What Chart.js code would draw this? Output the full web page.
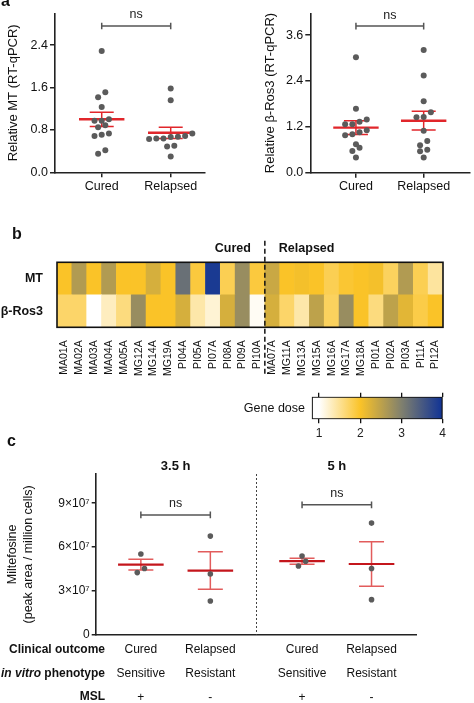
<!DOCTYPE html>
<html><head><meta charset="utf-8">
<script src="https://cdn.jsdelivr.net/npm/chart.js@4.4.1/dist/chart.umd.min.js"></script>
<style>
html,body{margin:0;padding:0;background:#fff;width:474px;height:703px;overflow:hidden;position:relative}
canvas{position:absolute}
</style></head><body>
<canvas id="a1" width="237" height="200" style="left:0;top:0;width:237px;height:200px"></canvas>
<canvas id="a2" width="237" height="200" style="left:237px;top:0;width:237px;height:200px"></canvas>
<canvas id="b" width="474" height="160" style="left:0;top:220px;width:474px;height:160px"></canvas>
<canvas id="c" width="474" height="273" style="left:0;top:430px;width:474px;height:273px"></canvas>
<canvas id="cb" width="474" height="65" style="left:0;top:380px;width:474px;height:65px"></canvas>
<script>
// ---------- DATA ----------
const catsA = ['Cured', 'Relapsed'];
const mtCured = [2.29, 1.51, 1.415, 1.23, 0.975, 1.00, 0.975, 0.85, 0.89, 0.71, 0.685, 0.73, 0.35, 0.415];
const mtRelapsed = [1.58, 1.36, 0.73, 0.67, 0.64, 0.63, 0.64, 0.665, 0.685, 0.50, 0.485, 0.30];
const mtMean = [1.00, 0.745];
const mtSem = [0.135, 0.105];
const mtTicks = [0, 0.8, 1.6, 2.4];
const rosCured = [3.02, 1.67, 1.395, 1.33, 1.265, 1.265, 1.056, 1.11, 0.98, 1.004, 0.742, 0.654, 0.567, 0.40];
const rosRelapsed = [3.21, 2.54, 1.87, 1.58, 1.46, 1.45, 1.10, 0.83, 0.72, 0.60, 0.56, 0.40];
const rosMean = [1.18, 1.36];
const rosSem = [0.18, 0.245];
const rosTicks = [0, 1.2, 2.4, 3.6];

const isolates = ['MA01A','MA02A','MA03A','MA04A','MA05A','MG12A','MG14A','MG19A','PI04A','PI05A','PI07A','PI08A','PI09A','PI10A',
                  'MA07A','MG11A','MG13A','MG15A','MG16A','MG17A','MG18A','PI01A','PI02A','PI03A','PI11A','PI12A'];
const genes = ['MT', 'β-Ros3'];
const mtDose  = [2.0,2.6,2.0,2.6,2.0,2.0,2.3,2.0,3.2,1.9,3.9,1.8,2.8,1.9, 2.4,2.0,2.05,2.0,1.8,1.95,2.0,2.05,1.75,2.6,1.8,1.45];
const rosDose = [1.7,1.7,1.0,1.3,1.6,2.8,2.0,2.0,2.3,1.4,1.2,2.3,2.8,1.05, 2.3,1.7,1.4,2.5,1.75,2.8,2.0,1.6,2.5,2.2,1.85,2.0];
const doseTicks = [1, 2, 3, 4];
const doseRange = [0.82, 4];

const timepoints = ['3.5 h', '5 h'];
const outcomes = ['Cured', 'Relapsed', 'Cured', 'Relapsed'];
const phenotypes = ['Sensitive', 'Resistant', 'Sensitive', 'Resistant'];
const msl = ['+', '-', '+', '-'];
const milt35Cured = [5.52e7, 4.25e7, 4.53e7];
const milt35Relapsed = [6.75e7, 4.16e7, 2.31e7];
const milt5Cured = [5.39e7, 4.70e7, 5.03e7];
const milt5Relapsed = [7.64e7, 4.53e7, 2.40e7];
const miltMean = [4.80e7, 4.39e7, 5.03e7, 4.84e7];
const miltSem = [0.37e7, 1.28e7, 0.20e7, 1.52e7];
const miltTicks = [0, 3e7, 6e7, 9e7];

// ---------- LAYOUT (not data) ----------
const cPos = [1, 2, 3.32, 4.32];
const cDivider = 2.66;
const FONT = "'Liberation Sans', Arial, Helvetica, sans-serif";

Chart.defaults.font.family = FONT;
Chart.defaults.color = '#111';
Chart.defaults.animation = false;
Chart.defaults.responsive = false;
Chart.defaults.events = [];
Chart.defaults.plugins.legend.display = false;
Chart.defaults.plugins.tooltip.enabled = false;

function txt(ctx, s, x, y, o) {
  o = o || {};
  ctx.save();
  ctx.font = `${o.style || 'normal'} ${o.weight || 'normal'} ${o.size || 12}px ${FONT}`;
  ctx.fillStyle = o.color || '#111';
  ctx.textAlign = o.align || 'center';
  ctx.textBaseline = o.base || 'middle';
  ctx.fillText(s, x, y);
  ctx.restore();
}

// dose colour map
const doseStops = [[1,[255,255,255]],[2,[250,195,40]],[3,[128,128,110]],[4,[15,50,150]]];
function doseColor(v) {
  if (v <= doseStops[0][0]) return `rgb(${doseStops[0][1].join(',')})`;
  for (let i = 1; i < doseStops.length; i++) {
    if (v <= doseStops[i][0]) {
      const [v0, c0] = doseStops[i-1], [v1, c1] = doseStops[i];
      const t = (v - v0) / (v1 - v0);
      return `rgb(${c0.map((c, k) => Math.round(c + (c1[k] - c) * t)).join(',')})`;
    }
  }
  return `rgb(${doseStops[doseStops.length-1][1].join(',')})`;
}

// beeswarm-like spreading of overlapping dots (pixel space)
const swarmPlugin = {
  id: 'swarm',
  afterDatasetsUpdate(chart) {
    const D = 7.2, TH = 5.5;
    chart.data.datasets.forEach((ds, di) => {
      const els = chart.getDatasetMeta(di).data.slice().sort((a, b) => b.y - a.y);
      const groups = []; let cur = null;
      els.forEach(el => {
        if (cur && Math.abs(cur[0].y - el.y) < TH) cur.push(el);
        else { cur = [el]; groups.push(cur); }
      });
      groups.forEach(g => {
        const n = g.length;
        g.forEach((el, i) => { el.x += (i - (n - 1) / 2) * D; });
      });
    });
  }
};

function statsPlugin(cfg) {
  return {
    id: 'stats',
    beforeDatasetsDraw(chart) {
      const { ctx, scales: { x, y } } = chart;
      ctx.save();
      ctx.lineCap = 'butt';
      cfg.pos.forEach((p, i) => {
        const px = x.getPixelForValue(p);
        const m = y.getPixelForValue(cfg.mean[i]);
        const hi = y.getPixelForValue(cfg.mean[i] + cfg.sem[i]);
        const lo = y.getPixelForValue(cfg.mean[i] - cfg.sem[i]);
        ctx.strokeStyle = cfg.errColor; ctx.lineWidth = cfg.errWidth;
        ctx.beginPath();
        ctx.moveTo(px, hi); ctx.lineTo(px, lo);
        ctx.moveTo(px - cfg.cap, hi); ctx.lineTo(px + cfg.cap, hi);
        ctx.moveTo(px - cfg.cap, lo); ctx.lineTo(px + cfg.cap, lo);
        ctx.stroke();
        ctx.strokeStyle = cfg.meanColor; ctx.lineWidth = cfg.meanWidth;
        ctx.beginPath();
        ctx.moveTo(px - cfg.half, m); ctx.lineTo(px + cfg.half, m);
        ctx.stroke();
      });
      cfg.brackets.forEach(b => {
        const x1 = x.getPixelForValue(b.from), x2 = x.getPixelForValue(b.to), yy = y.getPixelForValue(b.value);
        ctx.strokeStyle = '#555'; ctx.lineWidth = 1.5;
        ctx.beginPath();
        ctx.moveTo(x1, yy); ctx.lineTo(x2, yy);
        ctx.moveTo(x1, yy - 3.3); ctx.lineTo(x1, yy + 3.3);
        ctx.moveTo(x2, yy - 3.3); ctx.lineTo(x2, yy + 3.3);
        ctx.stroke();
        txt(ctx, 'ns', (x1 + x2) / 2, yy - 11, { size: 12.5, color: '#222' });
      });
      ctx.restore();
    }
  };
}

function dotChart(id, o) {
  return new Chart(document.getElementById(id), {
    type: 'scatter',
    data: {
      datasets: o.groups.map((vals, gi) => ({
        data: vals.map(v => ({ x: gi + 1, y: v })),
        backgroundColor: '#5b5b5b', borderWidth: 0, pointRadius: 3
      }))
    },
    options: {
      layout: { padding: { left: 0, top: o.padTop, right: o.padRight, bottom: 0 } },
      scales: {
        x: {
          type: 'linear', min: o.xMin, max: o.xMax,
          afterBuildTicks: s => { s.ticks = catsA.map((c, i) => ({ value: i + 1 })); },
          ticks: { callback: (v, i) => catsA[i], font: { size: 12.5 }, color: '#111', padding: 1.5, autoSkip: false, maxRotation: 0 },
          grid: { drawOnChartArea: false, drawTicks: true, tickLength: 5, color: '#222', lineWidth: 1.5 },
          border: { color: '#222', width: 1.6 },
          afterFit: s => { s.height = o.xHeight; }
        },
        y: {
          type: 'linear', min: 0, max: o.yMax,
          afterBuildTicks: s => { s.ticks = o.ticks.map(v => ({ value: v })); },
          ticks: { callback: v => v.toFixed(1), font: { size: 12.5 }, color: '#111', padding: 2 },
          grid: { drawOnChartArea: false, drawTicks: true, tickLength: 5, color: '#222', lineWidth: 1.5 },
          border: { color: '#222', width: 1.6 },
          title: { display: true, text: o.title, font: { size: 13 }, color: '#111', padding: { top: o.titlePad, bottom: 0 } },
          afterFit: s => { s.width = o.yWidth; }
        }
      }
    },
    plugins: [swarmPlugin, statsPlugin({
      pos: [1, 2], mean: o.mean, sem: o.sem, half: 22.7, cap: 12,
      meanColor: '#e1262b', errColor: '#e1262b', meanWidth: 2.4, errWidth: 1.5,
      brackets: [{ from: 1, to: 2, value: o.bracket }]
    }), {
      id: 'letter',
      afterDraw(chart) { if (o.letter) txt(chart.ctx, o.letter, 1, 2, { size: 16, weight: 'bold', align: 'left' }); }
    }]
  });
}

dotChart('a1', {
  groups: [mtCured, mtRelapsed], mean: mtMean, sem: mtSem, ticks: mtTicks, yMax: 3.0,
  xMin: 0.323, xMax: 2.497, title: 'Relative MT (RT-qPCR)', titlePad: 5.2,
  yWidth: 55, padRight: 32, padTop: 13.3, xHeight: 27.7, bracket: 2.76, letter: 'a'
});
dotChart('a2', {
  groups: [rosCured, rosRelapsed], mean: rosMean, sem: rosSem, ticks: rosTicks, yMax: 4.17,
  xMin: 0.326, xMax: 2.684, title: 'Relative β-Ros3 (RT-qPCR)', titlePad: 25.2,
  yWidth: 73.3, padRight: 0, padTop: 13.3, xHeight: 27.3, bracket: 3.835, letter: ''
});

// ---------- Panel b heatmap ----------
new Chart(document.getElementById('b'), {
  type: 'bar',
  data: {
    labels: isolates,
    datasets: [
      { label: genes[1], data: rosDose.map(() => 1), backgroundColor: rosDose.map(doseColor) },
      { label: genes[0], data: mtDose.map(() => 1), backgroundColor: mtDose.map(doseColor) }
    ]
  },
  options: {
    layout: { padding: { left: 0, top: 42.3, right: 31, bottom: 0 } },
    datasets: { bar: { barPercentage: 1, categoryPercentage: 1, borderWidth: 0 } },
    scales: {
      x: {
        stacked: true, grid: { display: false }, border: { display: false },
        ticks: { autoSkip: false, minRotation: 90, maxRotation: 90, font: { size: 10.5 }, color: '#111', padding: 5 },
        afterFit: s => { s.height = 52.7; }
      },
      y: {
        stacked: true, min: 0, max: 2,
        afterBuildTicks: s => { s.ticks = [{ value: 0.5 }, { value: 1.5 }]; },
        ticks: { callback: (v, i) => genes[1 - i], font: { size: 12.5, weight: 'bold' }, color: '#111', padding: 6 },
        grid: { display: false }, border: { display: false },
        afterFit: s => { s.width = 57; }
      }
    }
  },
  plugins: [{
    id: 'heatExtras',
    afterDraw(chart) {
      const { ctx, chartArea: a, scales: { x } } = chart;
      ctx.save();
      ctx.strokeStyle = '#111'; ctx.lineWidth = 1.6;
      ctx.strokeRect(a.left, a.top, a.right - a.left, a.bottom - a.top);
      const dx = x.getPixelForValue(13.5);
      ctx.setLineDash([5, 3]); ctx.lineWidth = 1.5;
      ctx.beginPath(); ctx.moveTo(dx, 20.7); ctx.lineTo(dx, 155); ctx.stroke();
      ctx.restore();
      txt(ctx, catsA[0], dx - 14, 29, { size: 12.5, weight: 'bold', align: 'right' });
      txt(ctx, catsA[1], dx + 14, 29, { size: 12.5, weight: 'bold', align: 'left' });
      txt(ctx, 'b', 12, 15, { size: 16, weight: 'bold', align: 'left' });
    }
  }]
});

// ---------- colour bar ----------
new Chart(document.getElementById('cb'), {
  type: 'bar',
  data: {
    labels: [''],
    datasets: [{
      data: [[doseRange[0], doseRange[1]]],
      backgroundColor: c => {
        const ch = c.chart, xs = ch.scales.x;
        if (!xs || !ch.chartArea) return '#fff';
        const l = xs.getPixelForValue(xs.min), r = xs.getPixelForValue(xs.max);
        const g = ch.ctx.createLinearGradient(l, 0, r, 0);
        g.addColorStop(0, doseColor(xs.min));
        doseTicks.forEach(v => g.addColorStop(Math.min(1, Math.max(0, (xs.getPixelForValue(v) - l) / (r - l))), doseColor(v)));
        return g;
      },
      borderColor: '#111', borderWidth: 1.5, borderSkipped: false,
      barPercentage: 1, categoryPercentage: 1
    }]
  },
  options: {
    indexAxis: 'y',
    layout: { padding: { left: 311.7, right: 31.3, top: 0, bottom: 0 } },
    scales: {
      x: {
        type: 'linear', position: 'bottom', min: doseRange[0], max: doseRange[1],
        afterBuildTicks: s => { s.ticks = doseTicks.map(v => ({ value: v })); },
        ticks: { font: { size: 12 }, color: '#222', padding: 2.8 },
        grid: { drawOnChartArea: false, tickLength: 4, color: '#111', lineWidth: 1.3 },
        border: { display: false },
        afterFit: s => { s.height = 25.7; }
      },
      xTop: {
        type: 'linear', position: 'top', min: doseRange[0], max: doseRange[1],
        afterBuildTicks: s => { s.ticks = doseTicks.map(v => ({ value: v })); },
        ticks: { display: false },
        grid: { drawOnChartArea: false, tickLength: 4, color: '#111', lineWidth: 1.3 },
        border: { display: false },
        afterFit: s => { s.height = 16.7; }
      },
      y: { display: false }
    }
  },
  plugins: [{
    id: 'cbLabel',
    afterDraw(chart) { txt(chart.ctx, 'Gene dose', 305, 28.3, { size: 12.5, align: 'right' }); }
  }]
});

// ---------- Panel c ----------
const miltGroups = [milt35Cured, milt35Relapsed, milt5Cured, milt5Relapsed];
new Chart(document.getElementById('c'), {
  type: 'scatter',
  data: {
    datasets: miltGroups.map((vals, k) => ({
      data: vals.map(v => ({ x: cPos[k], y: v })),
      backgroundColor: '#5b5b5b', borderWidth: 0, pointRadius: 2.8
    }))
  },
  options: {
    layout: { padding: { left: 0, top: 44, right: 57.3, bottom: 0 } },
    scales: {
      x: {
        type: 'linear', min: 0.35, max: 4.97,
        afterBuildTicks: s => { s.ticks = cPos.map(v => ({ value: v })); },
        ticks: { callback: (v, i) => [outcomes[i], phenotypes[i], msl[i]], font: { size: 12, lineHeight: 2 }, color: '#111', padding: 2.6, maxRotation: 0, autoSkip: false },
        grid: { drawOnChartArea: false, drawTicks: false },
        border: { color: '#222', width: 1.6 },
        afterFit: s => { s.height = 68.3; }
      },
      y: {
        type: 'linear', min: 0, max: 1.1e8,
        afterBuildTicks: s => { s.ticks = miltTicks.map(v => ({ value: v })); },
        ticks: { callback: v => v === 0 ? '0' : (v / 1e7) + '×10⁷', font: { size: 12 }, color: '#111', padding: 2 },
        grid: { drawOnChartArea: false, tickLength: 4, color: '#222', lineWidth: 1.5 },
        border: { color: '#222', width: 1.6 },
        title: { display: true, text: ['Miltefosine', '(peak area / million cells)'], font: { size: 12.5, lineHeight: 1.28 }, color: '#111', padding: { top: 4.3, bottom: 0 } },
        afterFit: s => { s.width = 95.7; }
      }
    }
  },
  plugins: [swarmPlugin, statsPlugin({
    pos: cPos, mean: miltMean, sem: miltSem, half: 22.8, cap: 12.5,
    meanColor: '#c4161c', errColor: '#e25c5c', meanWidth: 2.2, errWidth: 1.5,
    brackets: [{ from: cPos[0], to: cPos[1], value: 8.2e7 }, { from: cPos[2], to: cPos[3], value: 8.89e7 }]
  }), {
    id: 'cExtras',
    afterDraw(chart) {
      const { ctx, chartArea: a, scales: { x } } = chart;
      ctx.save();
      ctx.strokeStyle = '#444'; ctx.lineWidth = 1; ctx.setLineDash([2, 2]);
      const dx = Math.round(x.getPixelForValue(cDivider)) + 0.5;
      ctx.beginPath(); ctx.moveTo(dx, a.top); ctx.lineTo(dx, a.bottom); ctx.stroke();
      ctx.restore();
      timepoints.forEach((t, k) => {
        const mx = (x.getPixelForValue(cPos[2 * k]) + x.getPixelForValue(cPos[2 * k + 1])) / 2;
        txt(ctx, t, mx, 36, { size: 13, weight: 'bold' });
      });
      const R = 105;
      txt(ctx, 'Clinical outcome', R, 219.3, { size: 12, weight: 'bold', align: 'right' });
      ctx.save();
      ctx.font = `normal bold 12px ${FONT}`;
      const w = ctx.measureText(' phenotype').width;
      ctx.restore();
      txt(ctx, ' phenotype', R, 243.3, { size: 12, weight: 'bold', align: 'right' });
      txt(ctx, 'in vitro', R - w, 243.3, { size: 12, weight: 'bold', style: 'italic', align: 'right' });
      txt(ctx, 'MSL', R, 267, { size: 12, weight: 'bold', align: 'right' });
      txt(ctx, 'c', 7, 12, { size: 16, weight: 'bold', align: 'left' });
    }
  }]
});
</script>
</body></html>
